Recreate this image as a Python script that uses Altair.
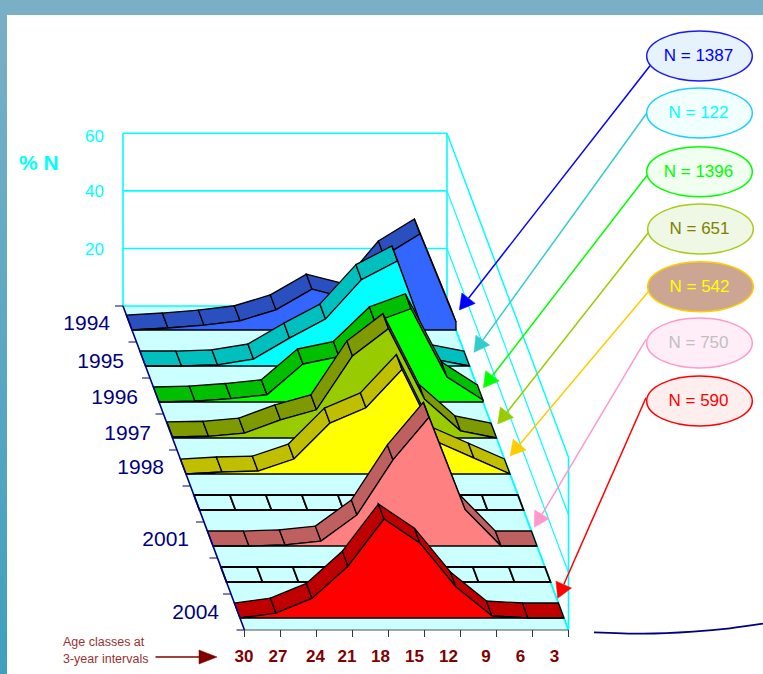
import altair as alt
import pandas as pd

# Age classes, left to right along the front axis
AGES = [30, 27, 24, 21, 18, 15, 12, 9, 6, 3]

# Percentage of N in each age class, per survey year
PCT_1994 = [0, 0.7, 1.7, 3.2, 7, 14.2, 11, 25.7, 33.4, 2.8]
PCT_1995 = [0, 0, 0.4, 2.4, 9.7, 16.3, 30, 36.5, 2.4, 0]
PCT_1996 = [0, 0.3, 1.2, 2.5, 13.2, 15.8, 27.8, 32.4, 8.7, 0.7]
PCT_1997 = [0.4, 0.6, 1.7, 6.3, 9.8, 28.5, 38, 13.5, 2.5, 0]
PCT_1998 = [0, 0.7, 1, 5.2, 17.7, 23, 36.3, 11, 5.5, 0]
PCT_2001 = [0, 0, 0.4, 1.7, 10.8, 29.9, 44.7, 12.7, 0, 0]
PCT_2004 = [0, 1.7, 6.8, 18, 34.4, 26, 10.8, 0.7, 0, 0]
EMPTY = [0] * 10

YEARS = [1994, 1995, 1996, 1997, 1998, 1999, 2001, 2002, 2004]
SERIES = [PCT_1994, PCT_1995, PCT_1996, PCT_1997, PCT_1998, EMPTY, PCT_2001, EMPTY, PCT_2004]
TOPS = ["#2A4FBF", "#00BFBF", "#00BF00", "#7F9900", "#BFBF00", None, "#BF6060", None, "#BF0000"]
FACES = ["#3366FF", "#00FFFF", "#00FF00", "#99CC00", "#FFFF00", None, "#FF8080", None, "#FF0000"]

COUNTS = [1387, 122, 1396, 651, 542, 750, 590]
NODE_STROKE = ["#1A1AF5", "#19CFFF", "#00FF00", "#A6CC1A", "#FFCC00", "#FF99CC", "#FF0000"]
NODE_FILL = ["#E6F2FC", "#F2FFFF", "#F0FFF0", "#EEF8E4", "#CCA693", "#FFEEF7", "#FFEEEE"]
NODE_TEXT = ["#0000FF", "#00FFFF", "#00FF00", "#808000", "#FFFF00", "#C0C0C0", "#FF0000"]
ARROW = ["#0000FF", "#33CCCC", "#00FF00", "#99CC00", "#FFCC00", "#FF99CC", "#FF0000"]

W, H = 763, 674
X = alt.X("x:Q", scale=alt.Scale(domain=[0, W], range=[0, W], nice=False, zero=False), axis=None)
Y = alt.Y("y:Q", scale=alt.Scale(domain=[0, H], range=[0, H], nice=False, zero=False), axis=None)


# Oblique projection: class index, depth along the floor, percentage
def px(i, d):
    return 123 + 0.375 * d + 36 * i


def py(v, d):
    return 306 + d - 2.878 * v


def polys(shapes):
    rows = []
    for n, pts in enumerate(shapes):
        rows += [{"x": a, "y": b, "poly": n, "ord": k} for k, (a, b) in enumerate(pts)]
    return pd.DataFrame(rows)


def shape_layer(shapes, **mark):
    return alt.Chart(polys(shapes)).mark_line(interpolate="linear-closed", **mark).encode(
        x=X, y=Y, detail="poly:N", order="ord:Q")


def path_layer(pts, **mark):
    df = pd.DataFrame([{"x": a, "y": b, "ord": k} for k, (a, b) in enumerate(pts)])
    return alt.Chart(df).mark_line(**mark).encode(x=X, y=Y, order="ord:Q")


def seg_layer(segs, color, width):
    df = pd.DataFrame([{"x": s[0], "y": s[1], "x2": s[2], "y2": s[3]} for s in segs])
    return alt.Chart(df).mark_rule(color=color, strokeWidth=width).encode(x=X, y=Y, x2="x2:Q", y2="y2:Q")


def text_layer(items, **mark):
    df = pd.DataFrame([{"x": a, "y": b, "t": t} for a, b, t in items])
    return alt.Chart(df).mark_text(baseline="middle", font="Liberation Sans", **mark).encode(x=X, y=Y, text="t:N")


def rect_layer(x0, y0, x1, y1, paint):
    df = pd.DataFrame([{"x": x0, "y": y0, "x2": x1, "y2": y1}])
    return alt.Chart(df).mark_rect(fill=paint).encode(x=X, y=Y, x2="x2:Q", y2="y2:Q")


layers = []

# Slide frame
layers.append(rect_layer(0, 0, W, 15, "#7AB0C6"))
layers.append(rect_layer(0, 0, 7, H, alt.Gradient(
    gradient="linear", x1=0, x2=0, y1=0, y2=1,
    stops=[alt.GradientStop(color="#7AB0C6", offset=0), alt.GradientStop(color="#3FA0BE", offset=1)])))

# Floor and walls
FLOOR_D = 324
layers.append(shape_layer([[(px(0, 0), py(0, 0)), (px(9, 0) - 1, py(0, 0)),
                            (px(9, FLOOR_D) - 1, py(0, FLOOR_D)), (px(0, FLOOR_D), py(0, FLOOR_D))]],
                          fill="#CCFFFF", stroke="#CCFFFF", strokeWidth=0.5))
wall_right = px(9, 0)
layers.append(seg_layer([(123, py(60, 0), 123, py(0, 0)), (123, py(60, 0), wall_right, py(60, 0)),
                         (123, py(40, 0), wall_right, py(40, 0)), (123, py(20, 0), wall_right, py(20, 0)),
                         (123, py(0, 0), wall_right, py(0, 0)), (wall_right, py(60, 0), wall_right, py(0, 0)),
                         (px(9, FLOOR_D), py(60, FLOOR_D), px(9, FLOOR_D), py(0, FLOOR_D))],
                        "#00FFFF", 1.6))
layers.append(seg_layer([(wall_right, py(v, 0), px(9, FLOOR_D), py(v, FLOOR_D)) for v in (40, 20)],
                        "#00FFFF", 1.2))
layers.append(seg_layer([(wall_right, py(60, 0), px(9, FLOOR_D), py(60, FLOOR_D))], "#00FFFF", 1.5))
layers.append(seg_layer([(wall_right, py(0, 0), px(9, FLOOR_D), py(0, FLOOR_D))], "#00FFFF", 2))

# Year ribbons, back to front
for k, vals in enumerate(SERIES):
    d = 24 + 36 * k
    back = d - 15
    ribbons = [[(px(i, d), py(vals[i], d)), (px(i + 1, d), py(vals[i + 1], d)),
                (px(i + 1, back), py(vals[i + 1], back)), (px(i, back), py(vals[i], back))]
               for i in range(9)]
    if TOPS[k] is None:
        layers.append(shape_layer(ribbons, fill="#CCFFFF", stroke="#000000", strokeWidth=1.8))
        continue
    layers.append(shape_layer(ribbons, fill=TOPS[k], stroke="#000000", strokeWidth=1.3))
    face = [(px(i, d), py(vals[i], d)) for i in range(10)] + [(px(9, d), py(0, d)), (px(0, d), py(0, d))]
    layers.append(shape_layer([face], fill=FACES[k], stroke="#000000", strokeWidth=1.3))

# Year axis along the left floor edge and age axis along the front
depth_ticks = [36 * n for n in range(10)]
layers.append(seg_layer([(px(0, 0), py(0, 0), px(0, FLOOR_D), py(0, FLOOR_D))], "#000080", 1.6))
layers.append(seg_layer([(px(0, t) - 8, py(0, t), px(0, t), py(0, t)) for t in depth_ticks], "#000080", 1))
layers.append(seg_layer([(px(0, FLOOR_D), py(0, FLOOR_D), px(9, FLOOR_D), py(0, FLOOR_D))], "#555555", 1.2))
layers.append(seg_layer([(px(i, FLOOR_D), py(0, FLOOR_D), px(i, FLOOR_D), py(0, FLOOR_D) + 7) for i in range(10)],
                        "#333333", 1))

# Text on the chart
layers.append(text_layer([(104, py(60, 0) + 4, "60"), (104, py(40, 0) + 1, "40"), (104, py(20, 0) + 2, "20")],
                         align="right", fontSize=17, color="#00FFFF"))
layers.append(text_layer([(19, 164, "% N")], align="left", fontSize=21, fontWeight="bold", color="#00FFFF"))
YEAR_RIGHT = [110, 124, 138, 151, 164, 189, 219]
YEAR_MID = [324, 361.5, 397.5, 433.5, 468, 540, 613]
YEAR_TEXT = [1994, 1995, 1996, 1997, 1998, 2001, 2004]
layers.append(text_layer([(a, b, str(t)) for a, b, t in zip(YEAR_RIGHT, YEAR_MID, YEAR_TEXT)],
                         align="right", fontSize=21, color="#000080"))
AGE_CENTRE = [244, 278, 315.5, 347, 380.5, 414.5, 448.5, 486, 520.5, 554.5]
layers.append(text_layer([(a, 656.5, str(t)) for a, t in zip(AGE_CENTRE, AGES)],
                         align="center", fontSize=17, fontWeight="bold", color="#800000"))
layers.append(text_layer([(63, 641.5, "Age classes at"), (63, 659, "3-year intervals")],
                         align="left", fontSize=12.5, color="#993333"))

# Arrow pointing at the age axis
layers.append(seg_layer([(155.5, 657, 205, 657)], "#800000", 1.5))
layers.append(shape_layer([[(217, 657), (199, 650), (199, 664)]], fill="#800000", stroke="#800000", strokeWidth=0.5))

# Count bubbles with leader arrows
NODE_X = [699.5, 699.5, 699.5, 700.5, 700.5, 699.5, 699.5]
NODE_Y = [56, 113, 171.7, 229, 286.7, 343, 401]
LEAD_START = [(650, 65.7), (646.7, 113.3), (647.3, 175), (648.3, 232.7), (648.3, 291.7), (646, 339.3), (646, 397.7)]
LEAD_TIP = [(459.3, 310), (474, 352.3), (483.3, 387.7), (497.7, 424), (510, 456), (534.3, 527.3), (557.7, 598.3)]
ELLIPSE = "M-1,0A1,0.474,0,1,1,1,0A1,0.474,0,1,1,-1,0Z"
for n, count in enumerate(COUNTS):
    sx, sy = LEAD_START[n]
    tx, ty = LEAD_TIP[n]
    ln = ((sx - tx) ** 2 + (sy - ty) ** 2) ** 0.5
    ux, uy = (sx - tx) / ln, (sy - ty) / ln
    bx, by = tx + 15 * ux, ty + 15 * uy
    layers.append(seg_layer([(sx, sy, bx, by)], ARROW[n], 1.5))
    layers.append(shape_layer([[(tx, ty), (bx - 8.5 * uy, by + 8.5 * ux), (bx + 8.5 * uy, by - 8.5 * ux)]],
                              fill=ARROW[n], stroke=ARROW[n], strokeWidth=0.5))
    node = pd.DataFrame([{"x": NODE_X[n], "y": NODE_Y[n]}])
    layers.append(alt.Chart(node).mark_point(shape=ELLIPSE, size=(2 * 52.8) ** 2, filled=True, fill=NODE_FILL[n],
                                             stroke=NODE_STROKE[n], strokeWidth=1.5, opacity=1).encode(x=X, y=Y))
    layers.append(text_layer([(NODE_X[n] - 1, NODE_Y[n], f"N = {count}")], align="center", fontSize=17,
                             color=NODE_TEXT[n]))

# Curved rule in the lower right corner
layers.append(path_layer([(594, 632.3), (643, 633.7), (693, 631.7), (730, 628.3), (763, 623.7)],
                         color="#000080", strokeWidth=1.8, interpolate="monotone"))

chart = alt.layer(*layers).properties(
    width=W, height=H, padding=0, autosize=alt.AutoSizeParams(type="none"), background="#FFFFFF"
).configure_view(stroke=None)

chart.save("out.html", embed_options={"renderer": "svg", "actions": False})
